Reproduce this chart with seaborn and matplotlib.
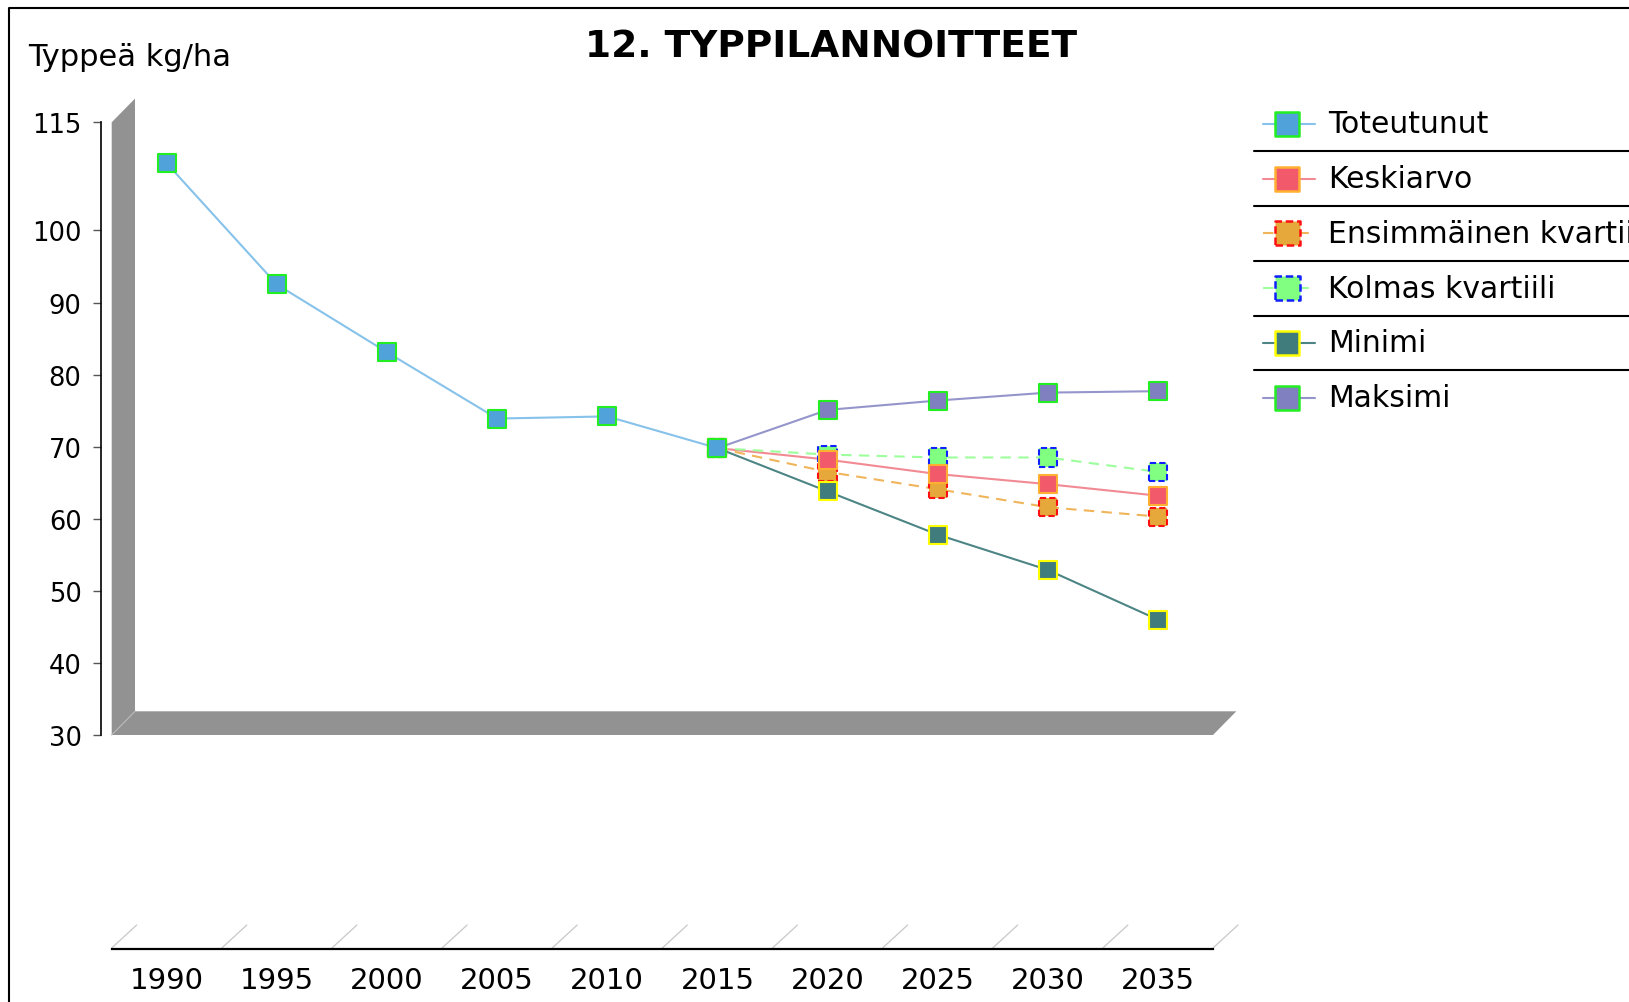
import numpy as np
import matplotlib
matplotlib.use("Agg")
import matplotlib.pyplot as plt
import seaborn as sns
from matplotlib.patches import Polygon

# data
years = [1990, 1995, 2000, 2005, 2010, 2015, 2020, 2025, 2030, 2035]
year_labels = [str(y) for y in years]
hist_years = [1990, 1995, 2000, 2005, 2010, 2015]
toteutunut = [109.3, 92.5, 83.1, 73.9, 74.2, 69.8]
proj_years = [2015, 2020, 2025, 2030, 2035]
keskiarvo = [69.8, 68.2, 66.2, 64.8, 63.2]
ens_kvartiili = [69.8, 66.5, 64.1, 61.6, 60.3]
kolmas_kvartiili = [69.8, 68.9, 68.5, 68.5, 66.5]
minimi = [69.8, 63.8, 57.8, 52.9, 46.0]
maksimi = [69.8, 75.1, 76.4, 77.5, 77.7]
y_ticks = [30, 40, 50, 60, 70, 80, 90, 100, 115]

# name, x, y, line colour, face, edge, dashed, zorder
series = [
    ("Toteutunut", hist_years, toteutunut, "#86c2ea", "#4fa3da", "#22ee22", False, 3.6),
    ("Keskiarvo", proj_years, keskiarvo, "#f28a94", "#f25a6c", "#ffb030", False, 3.4),
    ("Ensimmäinen kvartiili", proj_years, ens_kvartiili, "#f0b55a", "#e6a83a", "#ff1010", True, 3.2),
    ("Kolmas kvartiili", proj_years, kolmas_kvartiili, "#9cff9c", "#80ff80", "#1020ff", True, 3.1),
    ("Minimi", proj_years, minimi, "#4d8585", "#407c7c", "#ffff00", False, 3.5),
    ("Maksimi", proj_years, maksimi, "#9595cc", "#8080c0", "#22ee22", False, 3.0),
]

sns.set_style("white")
plt.rcParams["font.family"] = ["DejaVu Sans"]
plt.rcParams["text.color"] = "black"
plt.rcParams["xtick.color"] = "black"
plt.rcParams["ytick.color"] = "black"
plt.rcParams["xtick.labelcolor"] = "black"
plt.rcParams["ytick.labelcolor"] = "black"

W, H = 1629, 1003
fig = plt.figure(figsize=(W / 100, H / 100), dpi=100)

# pixel geometry of the plot box (front plane) and 3d depth
x0, x1 = 111.7, 1213.0
y_top, y_bot = 123.3, 736.0
depth_x, depth_y = 23.3, 23.7
xaxis_y = 950

ax_bg = fig.add_axes([0, 0, 1, 1])
ax_bg.set_xlim(0, W)
ax_bg.set_ylim(H, 0)
ax_bg.axis("off")

# grey wall + floor
wall = Polygon([(x0, y_top), (x0 + depth_x, y_top - depth_y), (x0 + depth_x, y_bot - depth_y), (x0, y_bot)],
               closed=True, facecolor="#929292", edgecolor="none")
floor = Polygon([(x0, y_bot), (x1, y_bot), (x1 + depth_x, y_bot - depth_y), (x0 + depth_x, y_bot - depth_y)],
                closed=True, facecolor="#929292", edgecolor="none")
ax_bg.add_patch(wall)
ax_bg.add_patch(floor)
ax_bg.plot([x0, x0 + depth_x], [y_bot, y_bot - depth_y], color="#b8b8b8", lw=0.8)

# outer frame
ax_bg.plot([9, 9, W], [H, 9, 9], color="black", lw=1.5)

ax_bg.text(831, 47, "12. TYPPILANNOITTEET", ha="center", va="center", fontsize=27, fontweight="bold")
ax_bg.text(28, 57, "Typpeä kg/ha", ha="left", va="center", fontsize=22)

ax = fig.add_axes([x0 / W, 1 - y_bot / H, (x1 - x0) / W, (y_bot - y_top) / H])
ax.patch.set_visible(False)

for name, xs, ys, lc, fc, ec, dashed, z in series:
    ls = (0, (5, 3.5)) if dashed else "-"
    sns.lineplot(x=xs, y=ys, ax=ax, color=lc, linewidth=1.5, linestyle=ls, errorbar=None, zorder=2)
    sns.scatterplot(x=xs, y=ys, ax=ax, marker="s", s=170, color=fc, edgecolor=ec, linewidth=1.5,
                    linestyle=(0, (3, 1.5)) if dashed else "-", zorder=z)

boundaries = [y - 2.5 for y in years] + [years[-1] + 2.5]
ax.set_xlim(boundaries[0], boundaries[-1])
ax.set_ylim(30, 115)
ax.set_xticks(years)
ax.set_xticklabels(year_labels)
ax.set_xticks(boundaries, minor=True)
ax.set_yticks(y_ticks)
ax.set_yticklabels([str(t) for t in y_ticks])
ax.tick_params(axis="x", which="major", length=0, pad=12, labelsize=21, labelcolor="black")
ax.tick_params(axis="x", which="minor", length=7, color="#b0b0b0", width=1, direction="out")
ax.tick_params(axis="y", length=5.8, width=1, color="#555555", direction="out", pad=8, left=True,
               labelsize=18.5, labelcolor="black")
ax.set_xlabel("")
ax.set_ylabel("")
for s in ["top", "right"]:
    ax.spines[s].set_visible(False)
ax.spines["left"].set_position(("outward", 11 * 0.72))
ax.spines["bottom"].set_position(("outward", (xaxis_y - y_bot) * 0.72))
ax.spines["left"].set_color("black")
ax.spines["bottom"].set_color("black")
ax.spines["left"].set_linewidth(1.2)
ax.spines["bottom"].set_linewidth(1.6)

# diagonal depth lines on the x axis
for b in boundaries:
    px = x0 + (b - boundaries[0]) / (boundaries[-1] - boundaries[0]) * (x1 - x0)
    ax_bg.plot([px, px + 25], [xaxis_y - 1, xaxis_y - 24], color="#c8c8c8", lw=0.9)

# legend, drawn by hand to get the separator rules
leg_y0, leg_step = 124.7, 54.8
for i, (name, xs, ys, lc, fc, ec, dashed, z) in enumerate(series):
    yy = leg_y0 + i * leg_step
    ax_bg.plot([1263, 1315], [yy, yy], color=lc, lw=1.5, linestyle=(0, (5, 3.5)) if dashed else "-")
    ax_bg.scatter([1287.5], [yy], marker="s", s=300, color=fc, edgecolor=ec, linewidth=1.8,
                  linestyle=(0, (3, 1.5)) if dashed else "-", zorder=3)
    ax_bg.text(1328, yy, name, ha="left", va="center", fontsize=21.5)
    if i < len(series) - 1:
        ax_bg.plot([1254, W], [yy + leg_step / 2] * 2, color="black", lw=1.5)

plt.savefig("out.png", dpi=100)
plt.close()
